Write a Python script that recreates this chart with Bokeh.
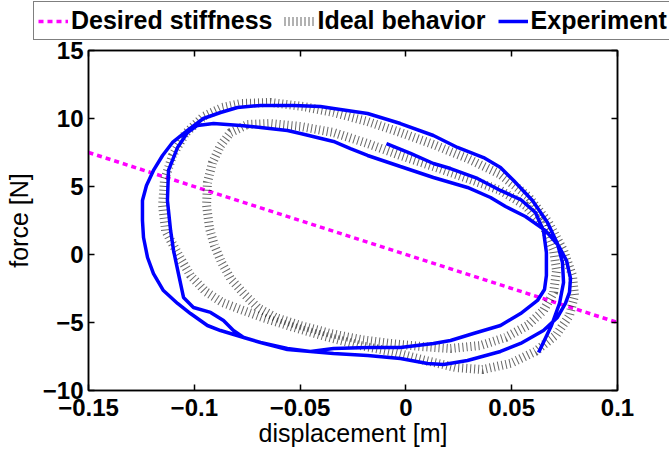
from bokeh.plotting import figure
from bokeh.layouts import column, row
from bokeh.models import (Legend, LegendItem, LinearAxis, FixedTicker,
                          CustomJSTickFormatter, Range1d)
from bokeh.embed import file_html
from bokeh.resources import INLINE

# ---------------- data ----------------
x_ticks = [-0.15, -0.1, -0.05, 0, 0.05, 0.1]
y_ticks = [-10, -5, 0, 5, 10, 15]

# desired stiffness line (force = -k * displacement)
stiff_x = [-0.15, 0.1]
stiff_y = [7.5, -5.0]

# ideal behaviour, two loops
ideal_outer_x = [-0.1136, -0.1150, -0.1141, -0.1103, -0.1042, -0.0957, -0.0867, -0.0782,
                 -0.0640, -0.0484, -0.0342, -0.0181, -0.0026, 0.0130, 0.0291, 0.0447,
                 0.0579, 0.0674, 0.0745, 0.0787, 0.0797, 0.0773, 0.0712, 0.0612,
                 0.0494, 0.0362, 0.0234, 0.0093, -0.0049, -0.0215, -0.0380, -0.0545,
                 -0.0678, -0.0782, -0.0867, -0.0947, -0.1018, -0.1065, -0.1112, -0.1136]
ideal_outer_y = [1.76, 3.60, 5.44, 7.28, 8.90, 10.15, 10.81, 11.10,
                 11.18, 10.88, 10.44, 9.78, 8.97, 8.09, 7.06, 5.88,
                 4.26, 2.35, 0.29, -1.54, -3.01, -4.49, -5.88, -7.13,
                 -8.01, -8.46, -8.31, -7.79, -7.21, -6.69, -6.03, -5.29,
                 -4.63, -4.04, -3.53, -2.72, -1.54, -0.29, 1.03, 1.76]

ideal_inner_x = [-0.0749, -0.0640, -0.0498, -0.0342, -0.0181, -0.0026, 0.0130, 0.0291,
                 0.0447, 0.0565, 0.0650, 0.0698, 0.0712, 0.0698, 0.0650, 0.0575,
                 0.0471, 0.0353, 0.0211, 0.0069, -0.0073, -0.0215, -0.0356, -0.0498,
                 -0.0616, -0.0701, -0.0767, -0.0829, -0.0871, -0.0905, -0.0928, -0.0942,
                 -0.0938, -0.0914, -0.0876, -0.0829, -0.0749]
ideal_inner_y = [9.56, 9.63, 9.41, 8.97, 8.16, 7.28, 6.47, 5.59,
                 4.71, 3.60, 2.13, 0.29, -1.18, -2.79, -4.12, -5.22,
                 -6.10, -6.69, -6.91, -6.76, -6.54, -6.25, -5.81, -5.22,
                 -4.63, -3.90, -2.87, -1.76, -0.59, 0.66, 1.91, 3.60,
                 5.29, 6.76, 8.01, 8.97, 9.56]

# experiment trajectory
exp_x = [-0.0092, 0.0022, 0.0130, 0.0211, 0.0338, 0.0447, 0.0542, 0.0612, 0.0650, 0.0664,
         0.0664, 0.0655, 0.0622, 0.0542, 0.0447, 0.0319, 0.0211, 0.0130, -0.0026, -0.0181,
         -0.0342, -0.0451, -0.0560, -0.0687, -0.0767, -0.0815, -0.0862, -0.0923, -0.1004, -0.1051,
         -0.1075, -0.1098, -0.1112, -0.1127, -0.1122, -0.1079, -0.1032, -0.0985, -0.0909, -0.0782,
         -0.0687, -0.0560, -0.0498, -0.0342, -0.0262, -0.0181, -0.0026, 0.0130, 0.0291, 0.0400,
         0.0471, 0.0565, 0.0660, 0.0721, 0.0759, 0.0778, 0.0773, 0.0754, 0.0716, 0.0650,
         0.0542, 0.0447, 0.0291, 0.0178, 0.0102, -0.0026, -0.0181, -0.0342, -0.0451, -0.0560,
         -0.0687, -0.0782, -0.0876, -0.0938, -0.1018, -0.1079, -0.1146, -0.1193, -0.1221, -0.1240,
         -0.1245, -0.1245, -0.1226, -0.1193, -0.1150, -0.1103, -0.1032, -0.0957, -0.0876, -0.0796,
         -0.0687, -0.0531, -0.0404, -0.0342, -0.0181, -0.0026, 0.0130, 0.0244, 0.0367, 0.0447,
         0.0509, 0.0598, 0.0669, 0.0716, 0.0740, 0.0745, 0.0726, 0.0688, 0.0627]
exp_y = [8.16, 7.43, 6.69, 6.32, 5.59, 4.71, 4.04, 3.09, 1.76, 0.15,
         -1.54, -2.57, -3.38, -4.34, -5.22, -5.81, -6.32, -6.54, -6.84, -6.84,
         -6.91, -7.13, -6.91, -6.47, -6.10, -5.59, -4.85, -4.26, -3.90, -3.16,
         -1.40, 0.29, 1.76, 3.97, 6.18, 7.87, 8.97, 9.49, 9.63, 9.49,
         9.34, 9.12, 8.90, 8.31, 7.79, 7.28, 6.47, 5.66, 4.93, 4.19,
         3.53, 2.79, 1.76, 0.66, -0.44, -1.76, -2.79, -3.60, -4.63, -5.59,
         -6.54, -7.13, -7.79, -8.09, -8.01, -7.65, -7.43, -7.28, -7.13, -6.99,
         -6.47, -6.03, -5.59, -5.22, -4.34, -3.60, -2.65, -1.40, -0.22, 1.25,
         2.50, 3.97, 5.07, 6.18, 7.28, 8.24, 9.12, 10.00, 10.44, 10.81,
         10.96, 10.96, 10.88, 10.74, 10.37, 9.63, 8.75, 7.87, 7.13, 6.40,
         5.44, 3.97, 2.35, 0.81, -0.59, -2.06, -3.60, -5.22, -7.21]

labels = ["Desired stiffness", "Ideal behavior", "Experiment"]

# ---------------- styles ----------------
FONT = "Liberation Sans"
STIFF = dict(line_color="#ff00ff", line_width=3.5, line_dash="5 4")
IDEAL = dict(line_color="black", line_alpha=0.6, line_width=9, line_dash="1 3")
EXP = dict(line_color="#0000ff", line_width=3.5)

LEG_H = 40

# ---------------- main figure ----------------
p = figure(width=669, height=449 - LEG_H, x_range=Range1d(-0.15, 0.1), y_range=Range1d(-10, 15),
           output_backend="svg", toolbar_location=None,
           min_border_left=88, min_border_right=52, min_border_top=10, min_border_bottom=59)
p.xgrid.visible = False
p.ygrid.visible = False
p.outline_line_color = "black"
p.outline_line_width = 1.5
p.background_fill_color = "white"
p.border_fill_color = "white"

p.line(stiff_x, stiff_y, **STIFF)
p.multi_line([ideal_outer_x, ideal_inner_x], [ideal_outer_y, ideal_inner_y], **IDEAL)
p.line(exp_x, exp_y, **EXP)

fmt = CustomJSTickFormatter(code="return (tick < 0 ? '\\u2212' : '') + Math.abs(tick).toString();")
empty_fmt = CustomJSTickFormatter(code="return '';")

def style_axis(ax, show_labels):
    ax.axis_line_width = 1.5
    ax.axis_line_color = "black"
    ax.major_tick_in = 6
    ax.major_tick_out = 0
    ax.major_tick_line_width = 1.5
    ax.minor_tick_line_color = None
    ax.major_label_text_font = FONT
    ax.major_label_text_font_style = "bold"
    ax.major_label_text_color = "black"
    if show_labels:
        ax.formatter = fmt
        ax.major_label_text_font_size = "24px"
    else:
        ax.formatter = empty_fmt
        ax.major_label_text_font_size = "1px"
        ax.major_label_standoff = 0
        ax.axis_label_standoff = 0

xa = p.xaxis[0]
ya = p.yaxis[0]
xa.ticker = FixedTicker(ticks=x_ticks)
ya.ticker = FixedTicker(ticks=y_ticks)
style_axis(xa, True)
style_axis(ya, True)
xa.major_label_standoff = 8
ya.major_label_standoff = 5
xa.axis_label = "displacement [m]"
ya.axis_label = "force [N]"
for ax in (xa, ya):
    ax.axis_label_text_font = FONT
    ax.axis_label_text_font_style = "normal"
    ax.axis_label_text_font_size = "25px"
    ax.axis_label_text_color = "black"
xa.axis_label_standoff = 0
ya.axis_label_standoff = 7

top = LinearAxis(ticker=FixedTicker(ticks=x_ticks))
right = LinearAxis(ticker=FixedTicker(ticks=y_ticks))
style_axis(top, False)
style_axis(right, False)
p.add_layout(top, "above")
p.add_layout(right, "right")

# ---------------- legend strip ----------------
# the proxy lines reuse the real data but sit outside this strip's visible range
lg = figure(width=669, height=LEG_H, x_range=Range1d(10, 11), y_range=Range1d(10, 11),
            output_backend="svg", toolbar_location=None,
            x_axis_location=None, y_axis_location=None,
            min_border_left=0, min_border_right=0, min_border_top=0, min_border_bottom=0)
lg.grid.visible = False
lg.outline_line_color = None
lg.background_fill_color = "white"
lg.border_fill_color = "white"

k1 = lg.line(stiff_x, stiff_y, **STIFF)
k2 = lg.multi_line([ideal_outer_x, ideal_inner_x], [ideal_outer_y, ideal_inner_y], **IDEAL)
k3 = lg.line(exp_x, exp_y, **EXP)

legend = Legend(items=[LegendItem(label=labels[0], renderers=[k1]),
                       LegendItem(label=labels[1], renderers=[k2]),
                       LegendItem(label=labels[2], renderers=[k3])],
                orientation="horizontal", location=(33, 0),
                label_text_font=FONT, label_text_font_style="bold",
                label_text_font_size="25px", label_text_color="black",
                glyph_width=30, glyph_height=20, label_standoff=3, spacing=12,
                padding=4, margin=0, border_line_color="black", border_line_width=1.5,
                background_fill_color="white", background_fill_alpha=1.0)
lg.add_layout(legend)

layout = column(row(lg), p, spacing=0)
open("out.html", "w").write(file_html(layout, INLINE))
